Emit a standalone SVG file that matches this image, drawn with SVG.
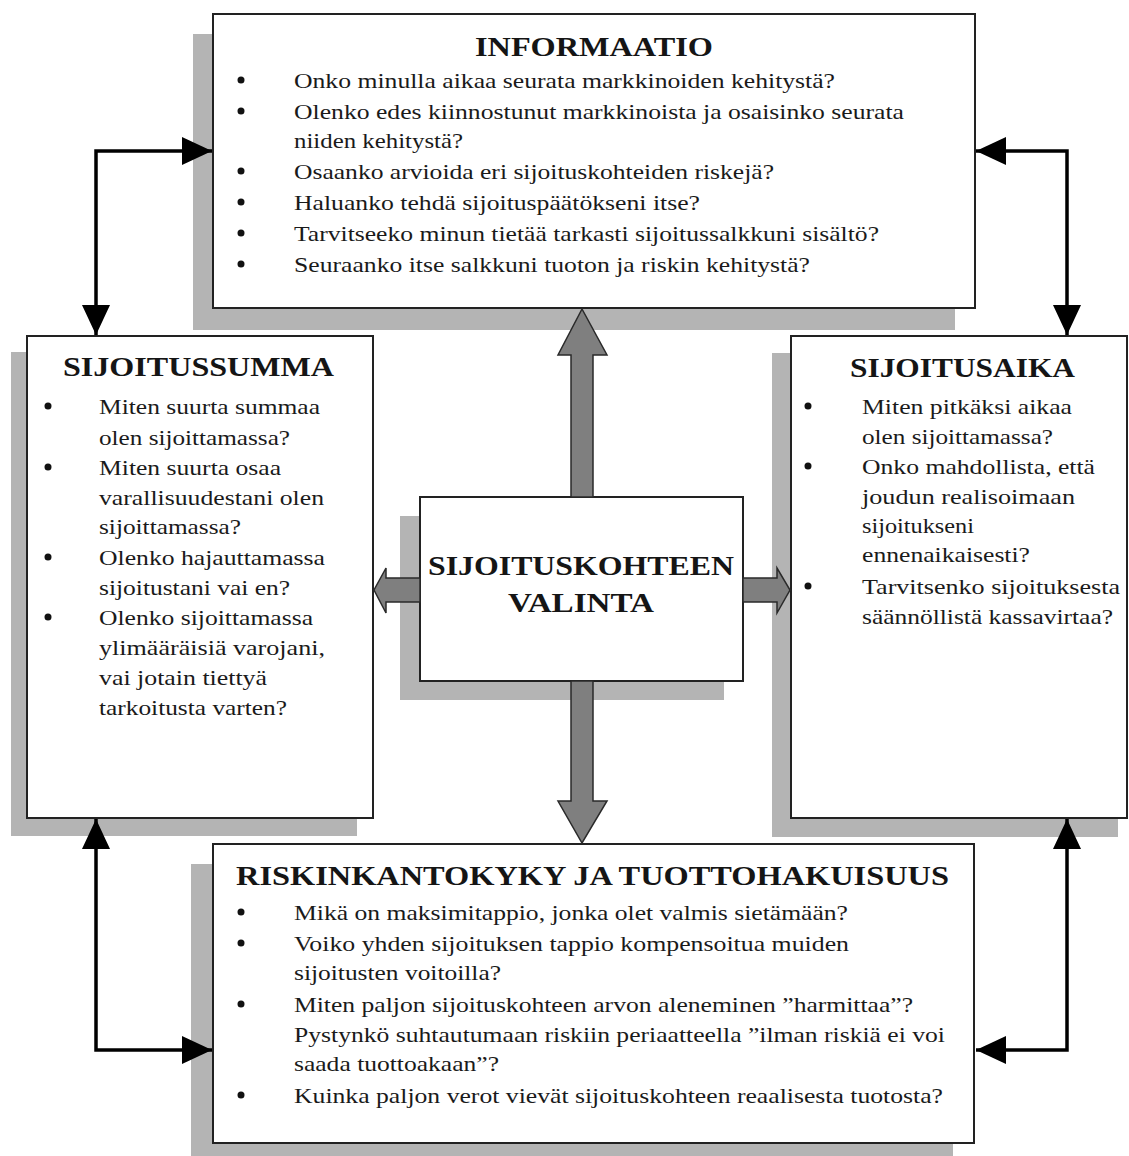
<svg xmlns="http://www.w3.org/2000/svg" width="1129" height="1156" viewBox="0 0 1129 1156">
<style>
.sh{fill:#b4b4b4}
.bx{fill:#fff;stroke:#222;stroke-width:2}
.t{font-family:"Liberation Serif","Times New Roman",serif;font-weight:bold;font-size:27px;fill:#151515}
.b{font-family:"Liberation Serif","Times New Roman",serif;font-size:22px;fill:#1a1a1a}
.dot{fill:#111}
.ga{fill:#7f7f7f;stroke:#2a2a2a;stroke-width:1.5;stroke-linejoin:miter}
.ln{fill:none;stroke:#000;stroke-width:3.5;marker-start:url(#ah);marker-end:url(#ah)}
</style>
<defs>
<marker id="ah" viewBox="0 0 30 28" refX="30" refY="14" markerWidth="30" markerHeight="28" markerUnits="userSpaceOnUse" orient="auto-start-reverse">
<path d="M0,0 L30,14 L0,28 z" fill="#000"/>
</marker>
</defs>
<rect width="1129" height="1156" fill="#fff"/>

<g id="informaatio">
<rect class="sh" x="193" y="34" width="762" height="296"/>
<rect class="bx" x="213" y="14" width="762" height="294"/>
<text class="t" x="475" y="56" textLength="238" lengthAdjust="spacingAndGlyphs">INFORMAATIO</text>
<circle class="dot" cx="241" cy="80" r="3.5"/>
<circle class="dot" cx="241" cy="111" r="3.5"/>
<circle class="dot" cx="241" cy="171" r="3.5"/>
<circle class="dot" cx="241" cy="202" r="3.5"/>
<circle class="dot" cx="241" cy="233" r="3.5"/>
<circle class="dot" cx="241" cy="264" r="3.5"/>
<text class="b" x="294" y="88" textLength="541" lengthAdjust="spacingAndGlyphs">Onko minulla aikaa seurata markkinoiden kehitystä?</text>
<text class="b" x="294" y="119" textLength="610" lengthAdjust="spacingAndGlyphs">Olenko edes kiinnostunut markkinoista ja osaisinko seurata</text>
<text class="b" x="294" y="148" textLength="169" lengthAdjust="spacingAndGlyphs">niiden kehitystä?</text>
<text class="b" x="294" y="179" textLength="480" lengthAdjust="spacingAndGlyphs">Osaanko arvioida eri sijoituskohteiden riskejä?</text>
<text class="b" x="294" y="210" textLength="406" lengthAdjust="spacingAndGlyphs">Haluanko tehdä sijoituspäätökseni itse?</text>
<text class="b" x="294" y="241" textLength="585" lengthAdjust="spacingAndGlyphs">Tarvitseeko minun tietää tarkasti sijoitussalkkuni sisältö?</text>
<text class="b" x="294" y="272" textLength="516" lengthAdjust="spacingAndGlyphs">Seuraanko itse salkkuni tuoton ja riskin kehitystä?</text>
</g>

<g id="sijoitussumma">
<rect class="sh" x="11" y="352" width="346" height="484"/>
<rect class="bx" x="27" y="336" width="346" height="482"/>
<text class="t" x="63" y="376" textLength="271" lengthAdjust="spacingAndGlyphs">SIJOITUSSUMMA</text>
<circle class="dot" cx="48" cy="406" r="3.5"/>
<circle class="dot" cx="48" cy="467" r="3.5"/>
<circle class="dot" cx="48" cy="557" r="3.5"/>
<circle class="dot" cx="48" cy="617" r="3.5"/>
<text class="b" x="99" y="414" textLength="221" lengthAdjust="spacingAndGlyphs">Miten suurta summaa</text>
<text class="b" x="99" y="445" textLength="191" lengthAdjust="spacingAndGlyphs">olen sijoittamassa?</text>
<text class="b" x="99" y="475" textLength="182" lengthAdjust="spacingAndGlyphs">Miten suurta osaa</text>
<text class="b" x="99" y="505" textLength="225" lengthAdjust="spacingAndGlyphs">varallisuudestani olen</text>
<text class="b" x="99" y="534" textLength="142" lengthAdjust="spacingAndGlyphs">sijoittamassa?</text>
<text class="b" x="99" y="565" textLength="226" lengthAdjust="spacingAndGlyphs">Olenko hajauttamassa</text>
<text class="b" x="99" y="595" textLength="191" lengthAdjust="spacingAndGlyphs">sijoitustani vai en?</text>
<text class="b" x="99" y="625" textLength="214" lengthAdjust="spacingAndGlyphs">Olenko sijoittamassa</text>
<text class="b" x="99" y="655" textLength="226" lengthAdjust="spacingAndGlyphs">ylimääräisiä varojani,</text>
<text class="b" x="99" y="685" textLength="168" lengthAdjust="spacingAndGlyphs">vai jotain tiettyä</text>
<text class="b" x="99" y="715" textLength="188" lengthAdjust="spacingAndGlyphs">tarkoitusta varten?</text>
</g>

<g id="sijoitusaika">
<rect class="sh" x="772" y="353" width="346" height="484"/>
<rect class="bx" x="791" y="336" width="336" height="482"/>
<text class="t" x="850" y="377" textLength="225" lengthAdjust="spacingAndGlyphs">SIJOITUSAIKA</text>
<circle class="dot" cx="808" cy="406" r="3.5"/>
<circle class="dot" cx="808" cy="466" r="3.5"/>
<circle class="dot" cx="808" cy="586" r="3.5"/>
<text class="b" x="862" y="414" textLength="210" lengthAdjust="spacingAndGlyphs">Miten pitkäksi aikaa</text>
<text class="b" x="862" y="444" textLength="191" lengthAdjust="spacingAndGlyphs">olen sijoittamassa?</text>
<text class="b" x="862" y="474" textLength="233" lengthAdjust="spacingAndGlyphs">Onko mahdollista, että</text>
<text class="b" x="862" y="504" textLength="213" lengthAdjust="spacingAndGlyphs">joudun realisoimaan</text>
<text class="b" x="862" y="533" textLength="112" lengthAdjust="spacingAndGlyphs">sijoitukseni</text>
<text class="b" x="862" y="562" textLength="168" lengthAdjust="spacingAndGlyphs">ennenaikaisesti?</text>
<text class="b" x="862" y="594" textLength="258" lengthAdjust="spacingAndGlyphs">Tarvitsenko sijoituksesta</text>
<text class="b" x="862" y="624" textLength="251" lengthAdjust="spacingAndGlyphs">säännöllistä kassavirtaa?</text>
</g>

<g id="valinta">
<rect class="sh" x="400" y="516" width="324" height="184"/>
<rect class="bx" x="420" y="497" width="323" height="184"/>
<text class="t" x="428" y="575" textLength="306" lengthAdjust="spacingAndGlyphs">SIJOITUSKOHTEEN</text>
<text class="t" x="508" y="612" textLength="146" lengthAdjust="spacingAndGlyphs">VALINTA</text>
</g>

<g id="riskinkantokyky">
<rect class="sh" x="191" y="864" width="762" height="300"/>
<rect class="bx" x="213" y="844" width="761" height="299"/>
<text class="t" x="236" y="885" textLength="713" lengthAdjust="spacingAndGlyphs">RISKINKANTOKYKY JA TUOTTOHAKUISUUS</text>
<circle class="dot" cx="241" cy="912" r="3.5"/>
<circle class="dot" cx="241" cy="943" r="3.5"/>
<circle class="dot" cx="241" cy="1004" r="3.5"/>
<circle class="dot" cx="241" cy="1095" r="3.5"/>
<text class="b" x="294" y="920" textLength="554" lengthAdjust="spacingAndGlyphs">Mikä on maksimitappio, jonka olet valmis sietämään?</text>
<text class="b" x="294" y="951" textLength="555" lengthAdjust="spacingAndGlyphs">Voiko yhden sijoituksen tappio kompensoitua muiden</text>
<text class="b" x="294" y="980" textLength="207" lengthAdjust="spacingAndGlyphs">sijoitusten voitoilla?</text>
<text class="b" x="294" y="1012" textLength="619" lengthAdjust="spacingAndGlyphs">Miten paljon sijoituskohteen arvon aleneminen ”harmittaa”?</text>
<text class="b" x="294" y="1042" textLength="651" lengthAdjust="spacingAndGlyphs">Pystynkö suhtautumaan riskiin periaatteella ”ilman riskiä ei voi</text>
<text class="b" x="294" y="1071" textLength="205" lengthAdjust="spacingAndGlyphs">saada tuottoakaan”?</text>
<text class="b" x="294" y="1103" textLength="649" lengthAdjust="spacingAndGlyphs">Kuinka paljon verot vievät sijoituskohteen reaalisesta tuotosta?</text>
</g>

<g id="connectors">
<polygon class="ga" points="571,497 571,355 558,355 582,309 607,355 593,355 593,497"/>
<polygon class="ga" points="571,681 571,801 558,801 582,843 607,801 593,801 593,681"/>
<polygon class="ga" points="420,578 386,578 386,568 374,590 386,613 386,602 420,602"/>
<polygon class="ga" points="743,578 777,578 777,568 790,590 777,613 777,602 743,602"/>
<path class="ln" d="M212,151 H96 V335"/>
<path class="ln" d="M976,151 H1067 V335"/>
<path class="ln" d="M96,819 V1050 H212"/>
<path class="ln" d="M1067,819 V1050 H976"/>
</g>
</svg>
